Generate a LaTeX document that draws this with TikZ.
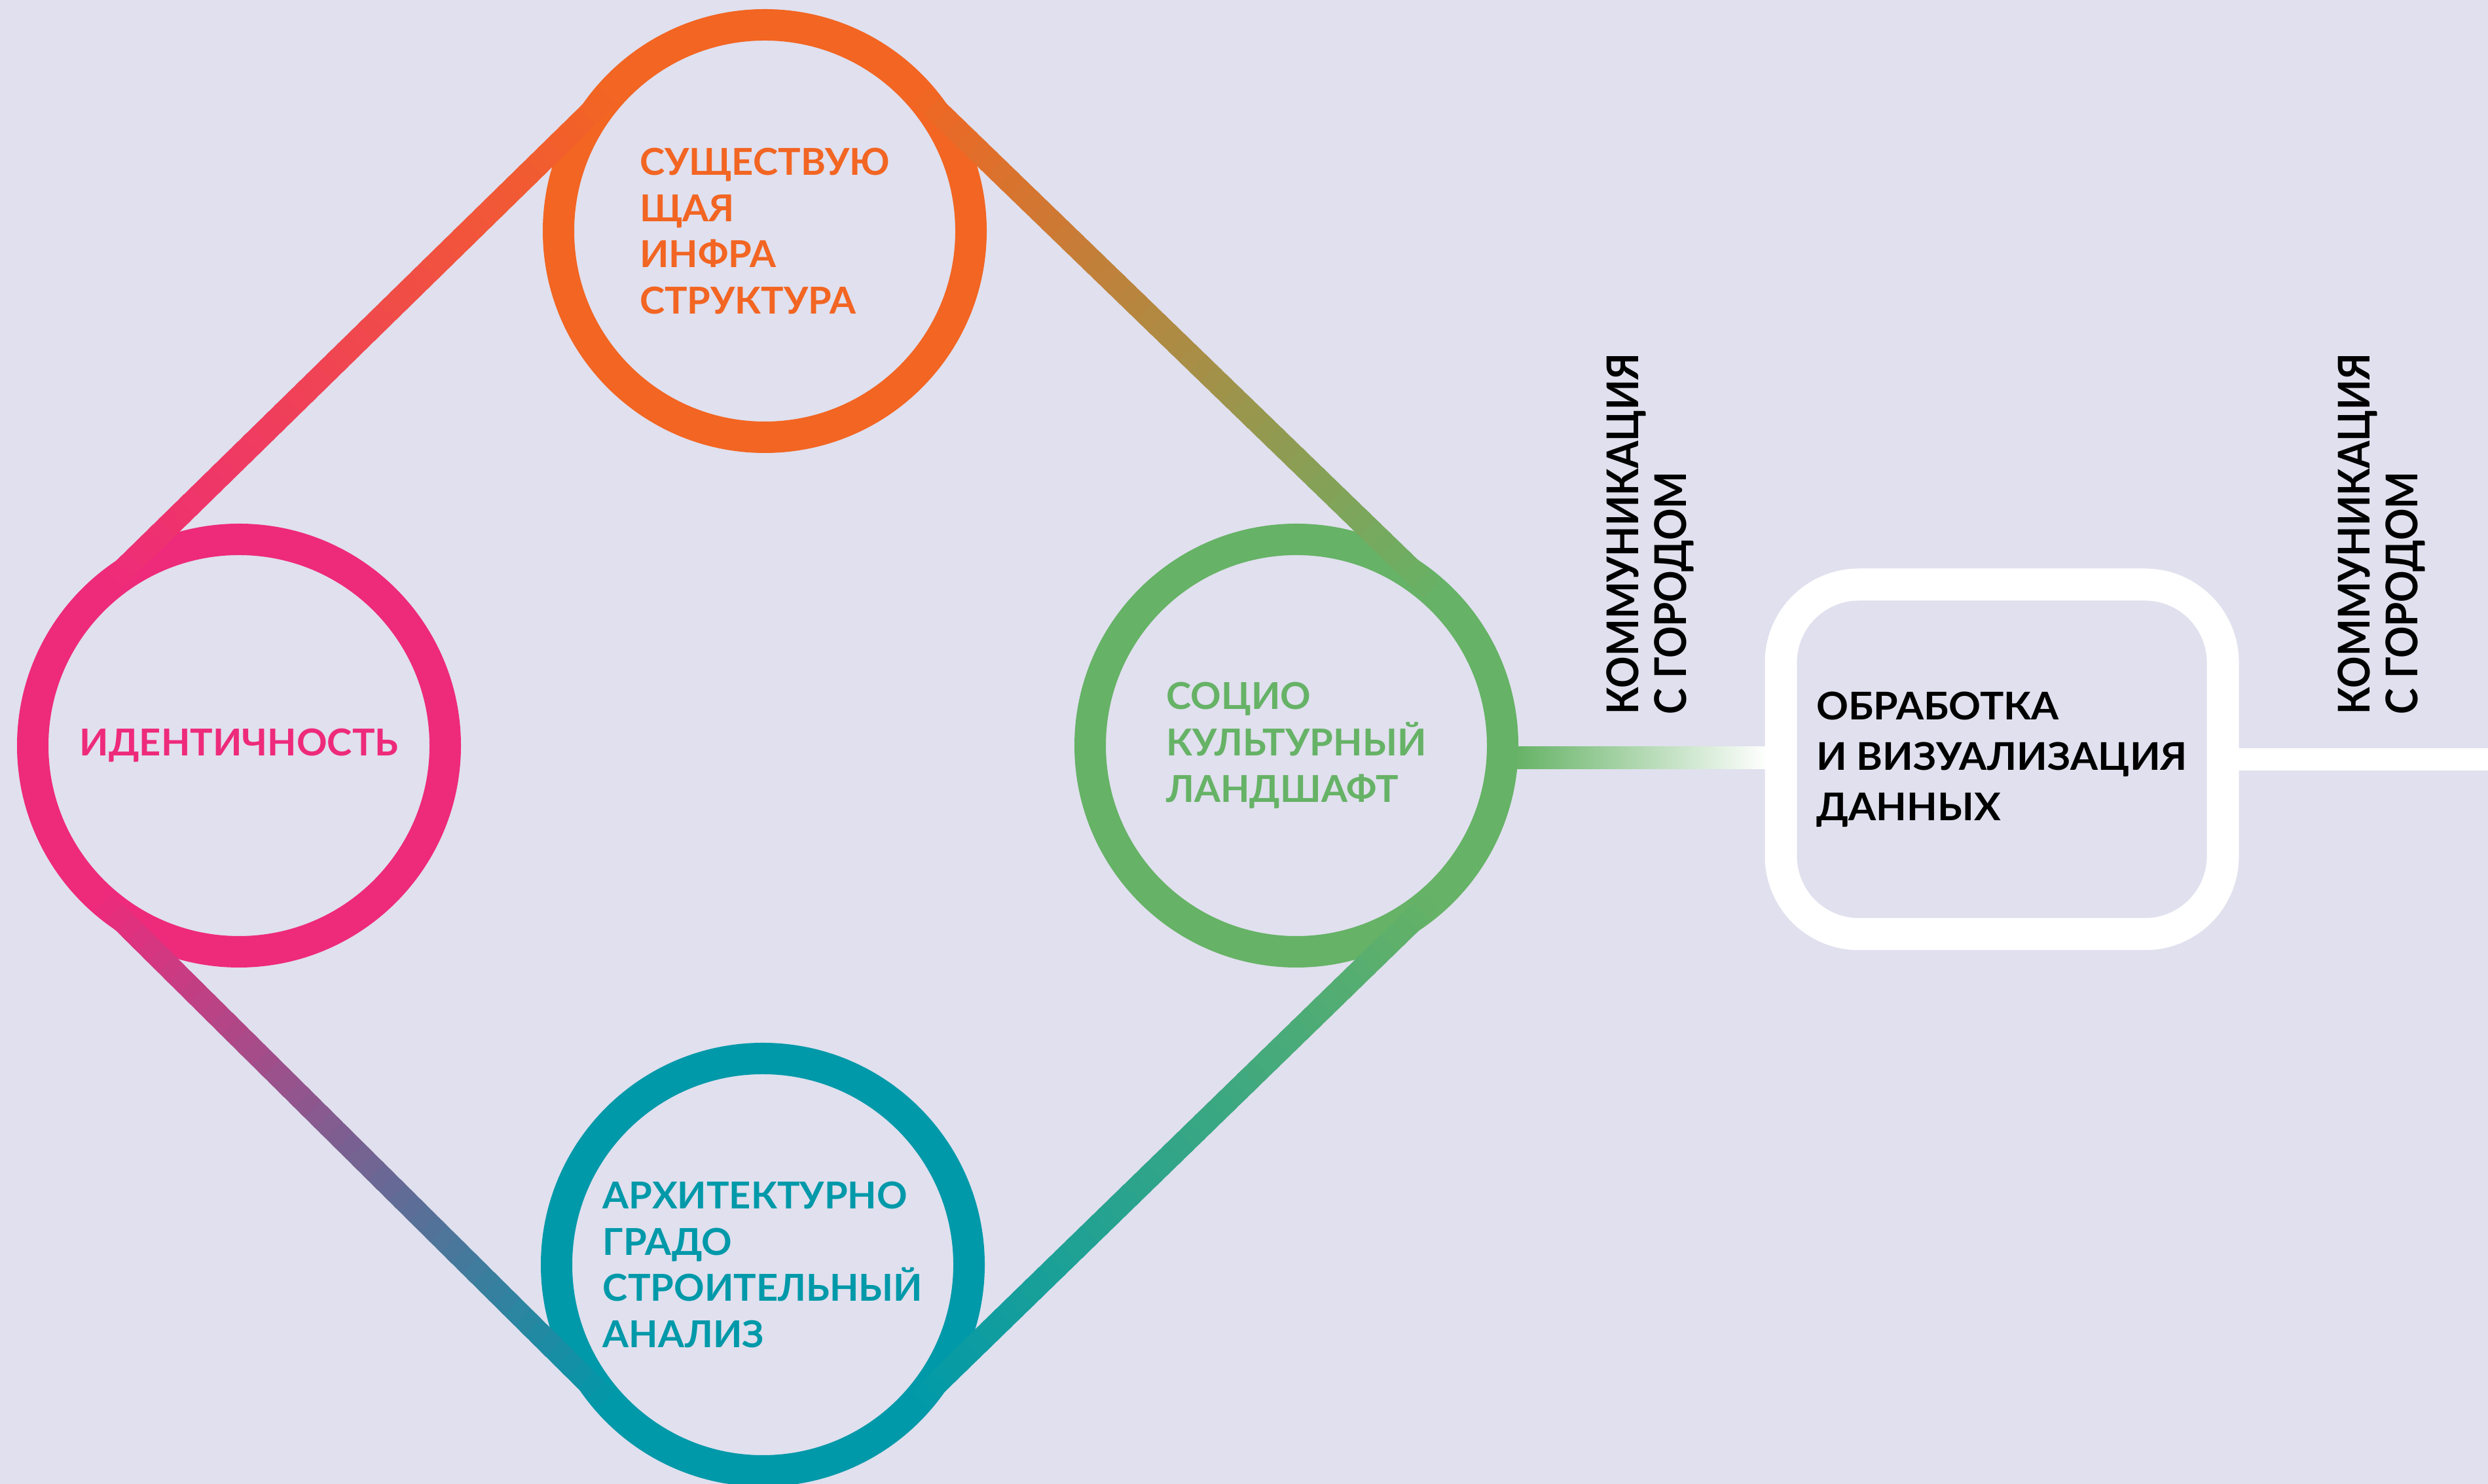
\documentclass[tikz,border=0pt]{standalone}
\usepackage{fontspec}
\setmainfont{Lato}
\newfontfamily\ringfont[FakeStretch=1.02]{Lato}
\newfontfamily\vfont[FakeStretch=0.9]{Lato}
\newfontfamily\datafont[FakeStretch=1.04]{Lato}
\usetikzlibrary{calc}
\definecolor{bg}{HTML}{E0E0EE}
\definecolor{cident}{HTML}{EE2A7B}
\definecolor{cinfra}{HTML}{F26522}
\definecolor{csocio}{HTML}{66B266}
\definecolor{carch}{HTML}{0099A9}
\tikzset{
	ring/.style={circle,draw=#1,text=#1,line width=0.48cm,minimum size=6.3cm,inner sep=0pt,outer sep=0pt,align=left,font=\ringfont\bfseries\fontsize{16.1}{20.15}\selectfont},
	vtext/.style={rotate=90,anchor=north west,inner sep=0pt,align=left,font=\vfont\bfseries\fontsize{19}{20.8}\selectfont}
}
\begin{document}
\begin{tikzpicture}
		\fill[bg] (0,0) rectangle (38,22.67);
		\useasboundingbox (0,0) rectangle (38,22.67);
		\node[ring=cident] (ident) at (3.65,11.28) {ИДЕНТИЧНОСТЬ};
		\node[ring=cinfra] (infra) at (11.68,19.14) {СУЩЕСТВУЮ\\ЩАЯ\\ИНФРА\\СТРУКТУРА};
		\node[ring=csocio] (socio) at (19.80,11.28) {СОЦИО\\КУЛЬТУРНЫЙ\\ЛАНДШАФТ};
		\node[ring=carch] (arch) at (11.65,3.35) {АРХИТЕКТУРНО\\ГРАДО\\СТРОИТЕЛЬНЫЙ\\АНАЛИЗ};
		\foreach \src/\dst/\ang in {ident/infra/135,infra/socio/45,socio/arch/-45,arch/ident/225}{
			\foreach \kk in {0,...,49}{
				\pgfmathsetmacro{\pct}{\kk*100/49}
				\pgfmathsetmacro{\tA}{\kk/50}
				\pgfmathsetmacro{\tB}{min(1,(\kk+1.5)/50)}
				\draw[line width=0.36cm,color=c\dst!\pct!c\src] ($(\src.\ang)!\tA!(\dst.\ang)$) -- ($(\src.\ang)!\tB!(\dst.\ang)$);
			}
		}
		\node[draw=white,line width=0.49cm,rounded corners=1.19cm,minimum width=6.75cm,minimum height=5.34cm,inner sep=0pt,outer sep=0pt,align=left,font=\datafont\bfseries\fontsize{16.6}{21.9}\selectfont] (data) at (30.575,11.07) {ОБРАБОТКА\\И ВИЗУАЛИЗАЦИЯ\\ДАННЫХ};
		\shade[left color=csocio,right color=white] ($(socio.east)+(0.2,-0.36)$) rectangle ($(data.west)+(-0.2,0.19)$);
		\coordinate (out) at (38.1,11.07);
		\draw[white,line width=0.34cm] (data.east) -- (out);
		\node[vtext] (comm1) at (24.53,11.75) {КОММУНИКАЦИЯ\\С ГОРОДОМ};
		\node[vtext] (comm2) at (35.70,11.75) {КОММУНИКАЦИЯ\\С ГОРОДОМ};
		\end{tikzpicture}
\end{document}
